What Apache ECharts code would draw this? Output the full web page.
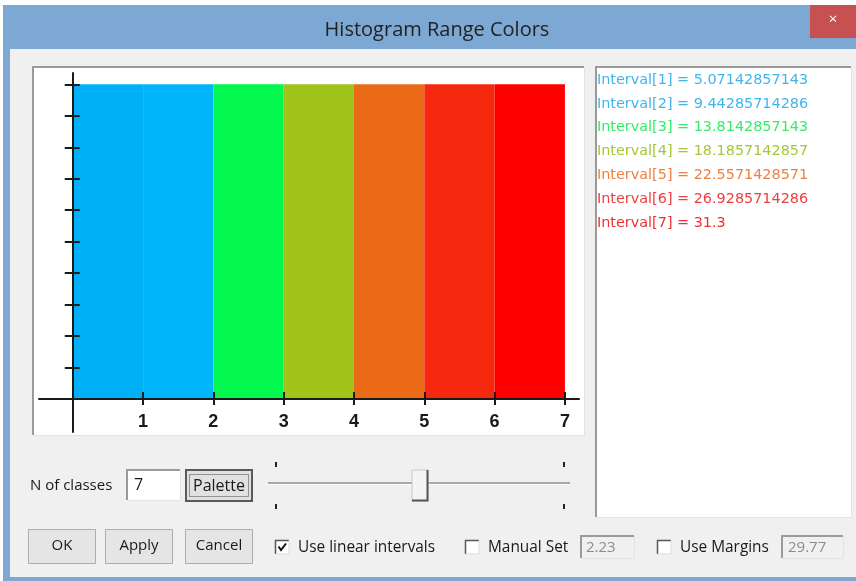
<!DOCTYPE html>
<html><head><meta charset="utf-8">
<script src="https://cdn.jsdelivr.net/npm/echarts@6/dist/echarts.min.js"></script>
<style>html,body{margin:0;padding:0;background:#fff}#c{width:856px;height:581px}</style>
</head><body><div id="c"></div>
<script>
// ---- data ----
const classStarts = [0, 1, 2, 3, 4, 5, 6];
const classEnds = [1, 2, 3, 4, 5, 6, 7];
const classHeights = [10, 10, 10, 10, 10, 10, 10];
const classColors = ['#00b1f7', '#00b5fa', '#02f74f', '#a0c41a', '#ea6a18', '#f6290f', '#fe0000'];
const xTickValues = [1, 2, 3, 4, 5, 6, 7];
const yTickValues = [1, 2, 3, 4, 5, 6, 7, 8, 9, 10];
const intervalLabels = [
  'Interval[1] = 5.07142857143',
  'Interval[2] = 9.44285714286',
  'Interval[3] = 13.8142857143',
  'Interval[4] = 18.1857142857',
  'Interval[5] = 22.5571428571',
  'Interval[6] = 26.9285714286',
  'Interval[7] = 31.3'
];
const intervalColors = ['#3db6ec', '#3db6ec', '#34ec66', '#a6c63a', '#ee8040', '#ec4040', '#ee3030'];
const nClasses = '7';
const manualSetValue = '2.23';
const marginsValue = '29.77';

// ---- chart ----
const chart = echarts.init(document.getElementById('c'), null, {renderer: 'canvas'});
const uiFont = "'Open Sans', 'Noto Sans', sans-serif";
const axisFont = "'Liberation Sans Narrow', 'Liberation Sans', Arial, sans-serif";

const g = [];
// window frame
g.push({type: 'rect', z: -20, shape: {x: 0, y: 0, width: 856, height: 581}, style: {fill: '#ffffff'}});
g.push({type: 'rect', z: -19, shape: {x: 3, y: 5, width: 853, height: 576}, style: {fill: '#7ca8d3'}});
g.push({type: 'rect', z: -18, shape: {x: 10, y: 49, width: 846, height: 528}, style: {fill: '#f0f0f0'}});
g.push({type: 'text', z: 10, style: {x: 437, y: 30, text: 'Histogram Range Colors', font: "20px " + uiFont, fill: '#222', align: 'center', verticalAlign: 'middle'}});
g.push({type: 'rect', z: -17, shape: {x: 810, y: 5, width: 46, height: 33}, style: {fill: '#c75050'}});
g.push({type: 'text', z: 10, style: {x: 833, y: 20, text: '×', font: "15px " + uiFont, fill: '#fff', align: 'center', verticalAlign: 'middle'}});

// sunken panel helper
function sunken(x, y, w, h, fill) {
  g.push({type: 'rect', z: -16, shape: {x: x, y: y, width: w, height: h}, style: {fill: fill}});
  g.push({type: 'polyline', z: -15, shape: {points: [[x + 1, y + h - 1], [x + 1, y + 1], [x + w - 1, y + 1]]}, style: {stroke: '#9a9a9a', lineWidth: 2, fill: null}});
  g.push({type: 'polyline', z: -15, shape: {points: [[x + 1, y + h - 0.5], [x + w - 0.5, y + h - 0.5], [x + w - 0.5, y + 1]]}, style: {stroke: '#e3e3e3', lineWidth: 1, fill: null}});
}
sunken(32, 66, 553, 370, '#ffffff');
sunken(595, 66, 257, 452, '#ffffff');

// interval list
intervalLabels.forEach((t, i) => {
  g.push({type: 'text', z: 10, style: {x: 597, y: 80 + i * 23.8, text: t, font: "14.4px 'DejaVu Sans', Verdana, sans-serif", fill: intervalColors[i], align: 'left', verticalAlign: 'middle'}});
});

// N of classes row
g.push({type: 'text', z: 10, style: {x: 30, y: 486, text: 'N of classes', font: "15px " + uiFont, fill: '#1a1a1a', align: 'left', verticalAlign: 'middle'}});
sunken(126, 469, 55, 32, '#ffffff');
g.push({type: 'text', z: 10, style: {x: 134, y: 485, text: nClasses, font: "16px " + uiFont, fill: '#1a1a1a', align: 'left', verticalAlign: 'middle'}});
// Palette button (default, focused)
g.push({type: 'rect', z: -14, shape: {x: 186, y: 470, width: 66, height: 31}, style: {fill: '#e1e1e1', stroke: '#5a5a5a', lineWidth: 2}});
g.push({type: 'rect', z: -13, shape: {x: 189.5, y: 474.5, width: 59, height: 22}, style: {fill: null, stroke: '#444', lineWidth: 1, lineDash: [1, 1]}});
g.push({type: 'text', z: 10, style: {x: 219, y: 486, text: 'Palette', font: "16px " + uiFont, fill: '#1a1a1a', align: 'center', verticalAlign: 'middle'}});

// slider
g.push({type: 'line', z: -14, shape: {x1: 268, y1: 483, x2: 570, y2: 483}, style: {stroke: '#a8a8a8', lineWidth: 2}});
g.push({type: 'line', z: -14, shape: {x1: 268, y1: 484.5, x2: 570, y2: 484.5}, style: {stroke: '#ffffff', lineWidth: 1}});
[276, 564].forEach(x => {
  g.push({type: 'line', z: -14, shape: {x1: x, y1: 462, x2: x, y2: 467}, style: {stroke: '#222', lineWidth: 2}});
  g.push({type: 'line', z: -14, shape: {x1: x, y1: 504, x2: x, y2: 509}, style: {stroke: '#222', lineWidth: 2}});
});
g.push({type: 'rect', z: -13, shape: {x: 412, y: 470, width: 16, height: 31}, style: {fill: '#f4f4f4', stroke: '#c8c8c8', lineWidth: 1}});
g.push({type: 'polyline', z: -12, shape: {points: [[412, 500.5], [427.5, 500.5], [427.5, 470]]}, style: {stroke: '#555', lineWidth: 2, fill: null}});

// buttons
[['OK', 28, 67], ['Apply', 105, 67], ['Cancel', 185, 67]].forEach(b => {
  g.push({type: 'rect', z: -14, shape: {x: b[1] + 0.5, y: 529.5, width: b[2], height: 34}, style: {fill: '#e5e5e5', stroke: '#adadad', lineWidth: 1}});
  g.push({type: 'text', z: 10, style: {x: b[1] + b[2] / 2 + 0.5, y: 546, text: b[0], font: "15px " + uiFont, fill: '#1a1a1a', align: 'center', verticalAlign: 'middle'}});
});

// checkboxes
function checkbox(x, y, checked, label) {
  g.push({type: 'rect', z: -14, shape: {x: x, y: y, width: 14, height: 14}, style: {fill: '#ffffff'}});
  g.push({type: 'polyline', z: -13, shape: {points: [[x + 0.5, y + 14], [x + 0.5, y + 0.5], [x + 14, y + 0.5]]}, style: {stroke: '#555', lineWidth: 1.5, fill: null}});
  g.push({type: 'polyline', z: -13, shape: {points: [[x + 0.5, y + 14], [x + 14, y + 14], [x + 14, y + 0.5]]}, style: {stroke: '#dcdcdc', lineWidth: 1, fill: null}});
  if (checked) {
    g.push({type: 'polyline', z: -12, shape: {points: [[x + 3.5, y + 6.5], [x + 6, y + 10], [x + 11, y + 3.5]]}, style: {stroke: '#111', lineWidth: 2, fill: null}});
  }
  g.push({type: 'text', z: 10, style: {x: x + 23, y: y + 8, text: label, font: "15.4px " + uiFont, fill: '#1a1a1a', align: 'left', verticalAlign: 'middle'}});
}
checkbox(275, 540, true, 'Use linear intervals');
checkbox(465, 540, false, 'Manual Set');
checkbox(657, 540, false, 'Use Margins');
// disabled edits
sunken(580, 535, 55, 24, '#f0f0f0');
g.push({type: 'text', z: 10, style: {x: 586, y: 548, text: manualSetValue, font: "15px " + uiFont, fill: '#8c8c8c', align: 'left', verticalAlign: 'middle'}});
sunken(781, 535, 63, 24, '#f0f0f0');
g.push({type: 'text', z: 10, style: {x: 788, y: 548, text: marginsValue, font: "15px " + uiFont, fill: '#8c8c8c', align: 'left', verticalAlign: 'middle'}});

const barData = classStarts.map((s, i) => [s, classEnds[i], classHeights[i]]);

const axisLineStyle = {color: '#1a1a1a', width: 2};
const option = {
  animation: false,
  backgroundColor: 'transparent',
  grid: {left: 39, right: 277, top: 73, bottom: 149, containLabel: false},
  xAxis: [
    {
      type: 'value', min: -0.48, max: 7.2, z: 5,
      axisLine: {show: true, onZero: true, onZeroAxisIndex: 0, lineStyle: axisLineStyle},
      axisTick: {show: true, inside: false, length: 6, customValues: xTickValues, lineStyle: axisLineStyle},
      axisLabel: {show: true, customValues: xTickValues, margin: -19, fontFamily: axisFont, fontWeight: 'bold', fontSize: 18, color: '#1a1a1a'},
      splitLine: {show: false}
    },
    {
      type: 'value', min: -0.48, max: 7.2, z: 5, position: 'bottom',
      axisLine: {show: false, onZero: true, onZeroAxisIndex: 0},
      axisTick: {show: true, inside: true, length: 7, customValues: xTickValues, lineStyle: axisLineStyle},
      axisLabel: {show: false},
      splitLine: {show: false}
    }
  ],
  yAxis: [
    {
      type: 'value', min: -1.05, max: 10.36, z: 5,
      axisLine: {show: true, onZero: true, onZeroAxisIndex: 0, lineStyle: axisLineStyle},
      axisTick: {show: true, inside: false, length: 8, customValues: yTickValues, lineStyle: axisLineStyle},
      axisLabel: {show: false},
      splitLine: {show: false}
    },
    {
      type: 'value', min: -1.05, max: 10.36, z: 5, position: 'left',
      axisLine: {show: false, onZero: true, onZeroAxisIndex: 0},
      axisTick: {show: true, inside: true, length: 7, customValues: yTickValues, lineStyle: axisLineStyle},
      axisLabel: {show: false},
      splitLine: {show: false}
    }
  ],
  graphic: {elements: g},
  series: [{
    type: 'custom',
    xAxisIndex: 0, yAxisIndex: 0,
    data: barData,
    encode: {x: [0, 1], y: 2},
    renderItem: function (params, api) {
      const s = api.value(0), e = api.value(1), h = api.value(2);
      const p0 = api.coord([s, h]);
      const p1 = api.coord([e, 0]);
      return {type: 'rect', shape: {x: p0[0], y: p0[1], width: p1[0] - p0[0], height: p1[1] - p0[1]}, style: {fill: classColors[params.dataIndex]}};
    }
  }]
};
chart.setOption(option);
</script>
</body></html>
